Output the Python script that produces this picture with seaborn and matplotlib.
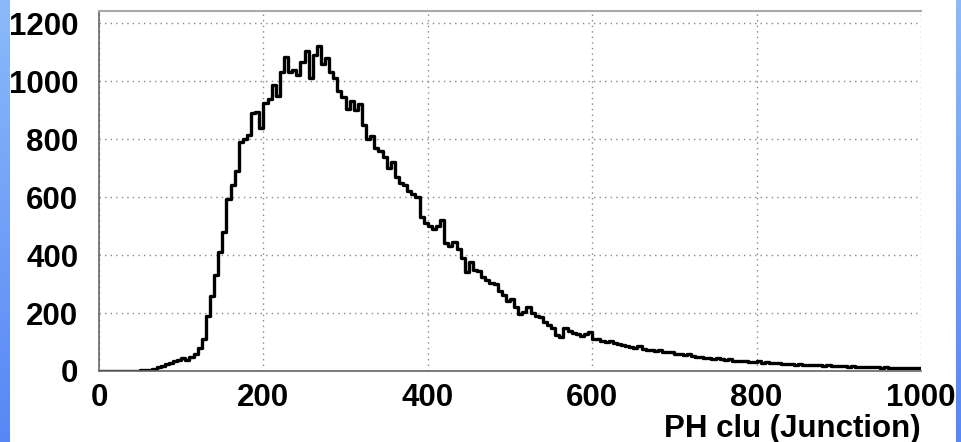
import numpy as np
import pandas as pd
import matplotlib
matplotlib.use("Agg")
import matplotlib.pyplot as plt
import seaborn as sns

# ---- data (histogram counts, 5-unit bins from 0 to 1000) ----
bin_width = 5
counts = [
    0, 0, 0, 0, 0, 0, 0, 0, 1, 1,            # 0-50
    2, 4, 5, 8, 13, 18, 24, 27, 33, 38,      # 50-100
    44, 38, 47, 60, 78, 112, 190, 260, 330, 410,   # 100-150
    480, 595, 640, 690, 790, 800, 815, 890, 895, 840,  # 150-200
    925, 940, 985, 950, 1030, 1085, 1030, 1040, 1020, 1065,  # 200-250
    1105, 1010, 1090, 1120, 1060, 1080, 1030, 1010, 965, 945,  # 250-300
    905, 930, 900, 920, 850, 800, 810, 770, 760, 740,  # 300-350
    700, 720, 670, 650, 640, 620, 610, 600, 530, 510,  # 350-400
    500, 490, 500, 520, 440, 430, 445, 420, 390, 340,  # 400-450
    375, 350, 345, 325, 315, 305, 300, 275, 262, 240,  # 450-500
    250, 220, 195, 205, 220, 200, 190, 185, 170, 160,  # 500-550
    150, 125, 118, 150, 138, 132, 128, 122, 126, 136,  # 550-600
    112, 110, 104, 100, 102, 95, 92, 88, 86, 84,       # 600-650
    80, 85, 76, 74, 72, 70, 74, 66, 64, 66,            # 650-700
    58, 60, 55, 57, 52, 50, 48, 46, 45, 42,            # 700-750
    44, 40, 38, 40, 36, 35, 34, 36, 32, 30,            # 750-800
    33, 28, 30, 27, 26, 28, 24, 25, 23, 22,            # 800-850
    24, 21, 20, 22, 19, 20, 18, 19, 17, 18,            # 850-900
    16, 17, 15, 16, 14, 15, 14, 13, 15, 13,            # 900-950
    12, 13, 12, 11, 12, 11, 10, 12, 10, 11,            # 950-1000
]
x_ticks = [0, 200, 400, 600, 800, 1000]
y_ticks = [0, 200, 400, 600, 800, 1000, 1200]
x_label = "PH clu (Junction)"

n_bins = len(counts)
centers = np.arange(n_bins) * bin_width + bin_width / 2
df = pd.DataFrame({"ph": centers, "n": np.asarray(counts, dtype=float)})

sns.set_style("white")
plt.rcParams["font.family"] = ["Liberation Sans", "DejaVu Sans"]
plt.rcParams["font.weight"] = "bold"
for k in ["text.color", "axes.labelcolor", "xtick.labelcolor", "ytick.labelcolor"]:
    plt.rcParams[k] = "black"

W, H = 961, 442
fig = plt.figure(figsize=(W / 100, H / 100), dpi=100)
fig.patch.set_facecolor("white")

# blue gradient strips at left and right edges
grad = np.linspace(0, 1, 256).reshape(-1, 1)
cmap = matplotlib.colors.LinearSegmentedColormap.from_list(
    "bg", ["#8cbafa", "#5687f5"])
for x0, w in [(0, 10), (956, 5)]:
    sax = fig.add_axes([x0 / W, 0, w / W, 1])
    sax.imshow(grad, aspect="auto", cmap=cmap, extent=[0, 1, 0, 1])
    sax.set_axis_off()

ax = fig.add_axes([99 / W, 1 - 371 / H, (921 - 99) / W, (371 - 11) / H])
sns.histplot(data=df, x="ph", weights="n", binwidth=bin_width,
             binrange=(0, bin_width * n_bins), element="step",
             fill=False, color="black", linewidth=2.4, ax=ax)

ax.set_xlim(0, 1000)
ax.set_ylim(0, 1242)
ax.set_xticks(x_ticks)
ax.set_yticks(y_ticks)
ax.set_xticks(np.arange(0, 1001, 50), minor=True)
ax.set_yticks(np.arange(0, 1201, 50), minor=True)
ax.set_ylabel("")
ax.set_xlabel(x_label, fontsize=22.5, fontweight="bold", color="black",
              loc="right", labelpad=0)

ax.grid(True, which="major", color="#888888", linestyle=(0, (1, 3)), linewidth=1.0)
ax.tick_params(axis="both", which="major", direction="in", length=12.5,
               width=1.0, color="#777777", labelsize=22.5, labelcolor="black")
ax.tick_params(axis="both", which="minor", direction="in", length=6,
               width=1.0, color="#777777")
ax.tick_params(axis="y", which="major", pad=15)
ax.tick_params(axis="x", which="major", pad=9)
for lab in ax.get_xticklabels() + ax.get_yticklabels():
    lab.set_fontweight("bold")

for s in ["left", "bottom"]:
    ax.spines[s].set_color("#666666")
    ax.spines[s].set_linewidth(1.2)
ax.spines["top"].set_color("#aaaaaa")
ax.spines["top"].set_linewidth(1.5)
ax.spines["right"].set_visible(False)

fig.savefig("out.png", dpi=100)
